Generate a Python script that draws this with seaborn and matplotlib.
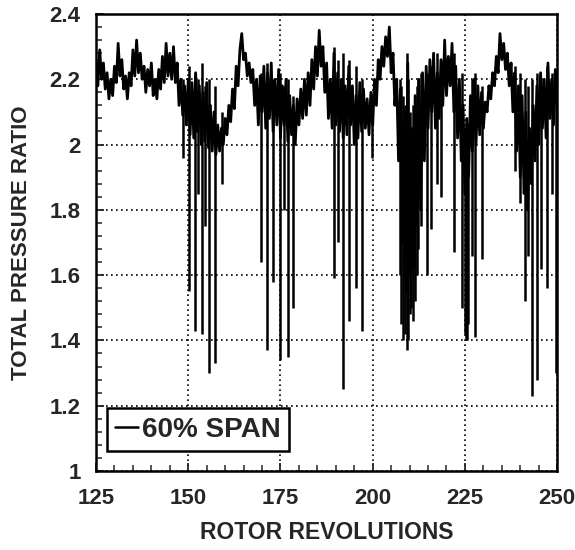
import numpy as np
import pandas as pd
import matplotlib
matplotlib.use("Agg")
import matplotlib.pyplot as plt
from matplotlib.ticker import MultipleLocator, FuncFormatter
import seaborn as sns

rev = [125.0 + 0.5 * i for i in range(251)]
ratio = [
    2.26, 2.18, 2.29, 2.20, 2.25, 2.17, 2.22, 2.14, 2.20, 2.15,   # 125.0-129.5
    2.24, 2.19, 2.31, 2.21, 2.26, 2.17, 2.21, 2.14, 2.22, 2.18,   # 130.0-134.5
    2.29, 2.21, 2.32, 2.22, 2.28, 2.20, 2.24, 2.16, 2.23, 2.18,   # 135.0-139.5
    2.25, 2.15, 2.20, 2.14, 2.23, 2.17, 2.27, 2.19, 2.31, 2.21,   # 140.0-144.5
    2.28, 2.20, 2.30, 2.19, 2.25, 2.12, 2.20, 2.09, 2.18, 2.06,   # 145.0-149.5
    2.20, 2.03, 2.19, 2.02, 2.22, 2.04, 2.18, 2.00, 2.16, 2.01,   # 150.0-154.5
    2.19, 1.99, 2.12, 1.98, 2.10, 1.97, 2.06, 1.98, 2.05, 2.00,   # 155.0-159.5
    2.08, 2.03, 2.12, 2.07, 2.17, 2.11, 2.24, 2.18, 2.29, 2.34,   # 160.0-164.5
    2.26, 2.28, 2.21, 2.25, 2.19, 2.23, 2.12, 2.20, 2.06, 2.21,   # 165.0-169.5
    2.10, 2.24, 2.05, 2.22, 2.08, 2.25, 2.04, 2.20, 2.06, 2.23,   # 170.0-174.5
    2.02, 2.18, 2.06, 2.20, 2.01, 2.15, 2.03, 2.12, 2.00, 2.14,   # 175.0-179.5
    2.06, 2.17, 2.08, 2.20, 2.09, 2.22, 2.12, 2.26, 2.17, 2.30,   # 180.0-184.5
    2.21, 2.35, 2.24, 2.30, 2.16, 2.25, 2.08, 2.20, 2.05, 2.28,   # 185.0-189.5
    2.06, 2.22, 2.04, 2.20, 2.02, 2.18, 2.03, 2.24, 2.06, 2.18,   # 190.0-194.5
    2.00, 2.15, 2.02, 2.19, 2.04, 2.17, 2.05, 2.14, 2.03, 2.16,   # 195.0-199.5
    2.06, 2.20, 2.12, 2.26, 2.20, 2.30, 2.24, 2.33, 2.27, 2.36,   # 200.0-204.5
    2.22, 2.28, 2.12, 2.20, 1.95, 2.17, 1.70, 2.10, 1.55, 2.25,   # 205.0-209.5
    1.60, 2.05, 1.62, 2.15, 1.75, 2.20, 1.80, 2.22, 1.95, 2.24,   # 210.0-214.5
    2.05, 2.26, 2.10, 2.28, 2.05, 2.22, 2.08, 2.26, 2.12, 2.32,   # 215.0-219.5
    2.15, 2.27, 2.18, 2.31, 2.10, 2.24, 2.02, 2.20, 1.95, 2.12,   # 220.0-224.5
    1.85, 2.08, 1.90, 2.15, 1.98, 2.20, 2.00, 2.18, 2.03, 2.16,   # 225.0-229.5
    2.05, 2.13, 2.10, 2.18, 2.14, 2.22, 2.18, 2.27, 2.22, 2.34,   # 230.0-234.5
    2.26, 2.31, 2.23, 2.28, 2.18, 2.25, 2.10, 2.22, 1.98, 2.18,   # 235.0-239.5
    1.90, 2.15, 1.85, 2.10, 1.80, 2.05, 1.88, 2.12, 1.95, 2.18,   # 240.0-244.5
    2.00, 2.22, 2.05, 2.20, 2.02, 2.25, 2.08, 2.20, 2.06, 2.23,   # 245.0-249.5
    2.12,                                                         # 250.0
]

# sharp downward excursions (position, value before the drop, lowest value)
spike_rev = [148.5, 150.3, 151.8, 152.7, 153.6, 154.6, 155.7, 157.3, 159.2,
             169.7, 171.3, 173.0, 174.9, 176.0, 177.0, 178.5,
             189.5, 190.6, 192.0, 193.6, 195.4, 197.1, 199.7,
             207.3, 207.8, 208.3, 208.8, 209.2, 209.6, 210.0, 210.5, 211.0,
             211.4, 211.9, 212.4, 213.0, 214.6, 215.9, 217.4, 218.4,
             222.0, 224.2, 225.0, 225.3, 225.6, 225.9, 226.9, 227.8, 229.6,
             238.6, 240.0, 241.3, 242.1, 243.2, 244.5, 245.7, 247.2, 248.6, 249.8]
spike_top = [2.20, 2.24, 2.22, 2.20, 2.25, 2.18, 2.20, 2.18, 2.10,
             2.22, 2.25, 2.20, 2.22, 2.18, 2.20, 2.15,
             2.30, 2.26, 2.28, 2.26, 2.24, 2.20, 2.15,
             2.20, 2.18, 2.15, 2.12, 2.28, 2.20, 2.10, 2.05, 2.12,
             2.15, 2.18, 2.20, 2.22, 2.22, 2.24, 2.28, 2.26,
             2.28, 2.22, 2.05, 2.02, 2.00, 2.05, 2.20, 2.22, 2.18,
             2.24, 2.22, 2.20, 2.18, 2.20, 2.22, 2.20, 2.24, 2.22, 2.20]
spike_min = [1.96, 1.55, 1.43, 1.85, 1.42, 1.75, 1.30, 1.33, 1.88,
             1.64, 1.37, 1.58, 1.34, 1.80, 1.35, 1.50,
             1.59, 1.70, 1.25, 1.46, 1.56, 1.43, 1.96,
             1.60, 1.45, 1.40, 1.42, 1.37, 1.40, 1.48, 1.50, 1.46,
             1.52, 1.60, 1.68, 1.75, 1.60, 1.74, 1.88, 1.84,
             1.67, 1.50, 1.42, 1.40, 1.40, 1.45, 1.66, 1.41, 1.65,
             1.92, 1.82, 1.52, 1.66, 1.23, 1.28, 1.62, 1.56, 1.85, 1.30]

series_label = "60% SPAN"
x_ticks = [125, 150, 175, 200, 225, 250]
y_ticks = [1, 1.2, 1.4, 1.6, 1.8, 2, 2.2, 2.4]

# ---- figure ----
sns.set_style("white")
plt.rcParams["font.family"] = ["Liberation Sans", "DejaVu Sans"]

fig = plt.figure(figsize=(5.75, 5.5), dpi=100)
ax = fig.add_axes([0.167, 0.1436, 0.802, 0.831])

df = pd.DataFrame({"rev": rev, "ratio": ratio})
sns.lineplot(data=df, x="rev", y="ratio", ax=ax, color="black", linewidth=2.0,
             label=series_label, estimator=None, sort=False)
ax.vlines(spike_rev, spike_min, spike_top, color="black", linewidth=1.8)

ax.set_xlim(125, 250)
ax.set_ylim(1, 2.4)
ax.set_xticks(x_ticks)
ax.set_yticks(y_ticks)
ax.xaxis.set_minor_locator(MultipleLocator(5))
ax.yaxis.set_minor_locator(MultipleLocator(0.04))
ax.yaxis.set_major_formatter(FuncFormatter(lambda v, p: f"{v:g}"))

ax.grid(True, which="major", color="black", linestyle=(0, (1, 2)), linewidth=1.2)
ax.set_axisbelow(True)
for s in ax.spines.values():
    s.set_linewidth(1.8)
    s.set_color("black")

ax.tick_params(axis="both", which="major", direction="in", length=6, width=1.3,
               labelsize=16, top=False, right=False, left=True, bottom=True)
ax.tick_params(axis="x", which="major", pad=12)
ax.tick_params(axis="y", which="major", pad=11)
ax.tick_params(axis="both", which="minor", direction="in", length=4, width=1.1,
               top=False, right=False, left=True, bottom=True)
for lab in ax.get_xticklabels() + ax.get_yticklabels():
    lab.set_fontweight("bold")

ax.set_xlabel("ROTOR REVOLUTIONS", fontsize=16.5, fontweight="bold", labelpad=9)
ax.set_ylabel("TOTAL PRESSURE RATIO", fontsize=16, fontweight="bold", labelpad=13)

leg = ax.legend(loc="lower left", bbox_to_anchor=(0.024, 0.044), borderaxespad=0,
                fontsize=20, handlelength=0.8, handletextpad=0.15, borderpad=0.3,
                fancybox=False, framealpha=1, edgecolor="black")
leg.get_frame().set_linewidth(1.8)
for t in leg.get_texts():
    t.set_fontweight("bold")
leg.get_lines()[0].set_linewidth(1.8)

fig.savefig("out.png", dpi=100)
